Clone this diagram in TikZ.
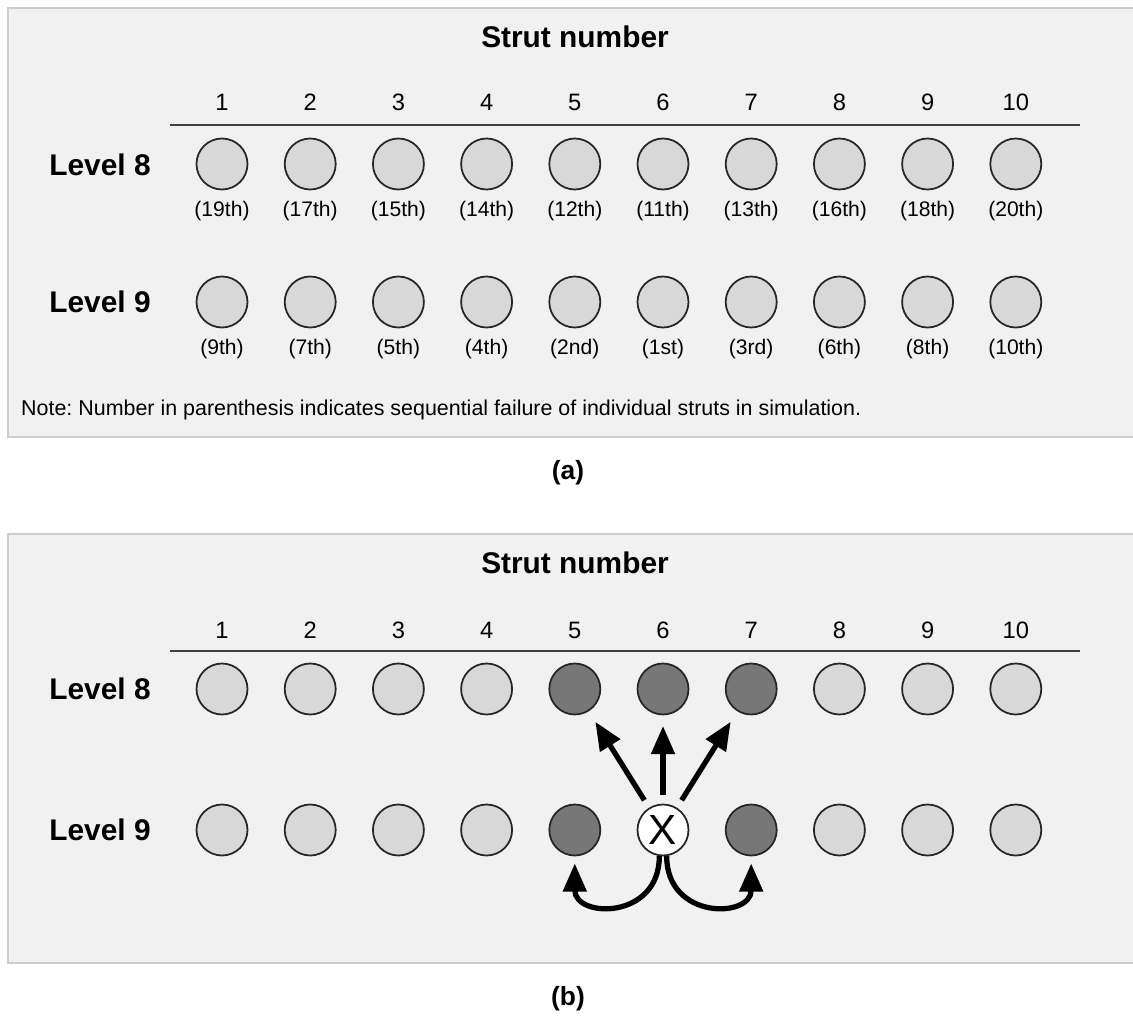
\documentclass[tikz,border=0pt]{standalone}
\usepackage{fontspec}
\setmainfont{Liberation Sans}
\usetikzlibrary{arrows.meta}
\frenchspacing

\definecolor{panelgray}{HTML}{F1F1F1}
\definecolor{edgegray}{HTML}{CDCDCD}
\definecolor{lightstrut}{HTML}{D8D8D8}
\definecolor{darkstrut}{HTML}{777777}

\begin{document}
\begin{tikzpicture}[
  x=0.02cm, y=-0.02cm,
  panel/.style={fill=panelgray, draw=edgegray, line width=1.2pt},
  strut/.style={circle, draw=black!85, line width=1pt, fill=lightstrut, minimum size=1.02cm, inner sep=0pt},
  failed/.style={strut, fill=darkstrut},
  removed/.style={strut, fill=white, font=\fontsize{24}{24}\selectfont},
  title/.style={font=\fontsize{17}{20}\selectfont\bfseries},
  levellabel/.style={font=\fontsize{17}{20}\selectfont\bfseries},
  colnum/.style={font=\fontsize{13.5}{16}\selectfont},
  order/.style={font=\fontsize{12}{14}\selectfont},
  caption/.style={font=\fontsize{15}{18}\selectfont\bfseries},
  push/.style={-{Triangle[length=16pt,width=13pt]}, line width=3pt}
]
\useasboundingbox (0,0) rectangle (1133,1017);
\fill[white] (0,0) rectangle (1133,1017);

% (a) failure sequence
\draw[panel] (8,8) rectangle (1150,437);
\node[title] (titleA) at (575,37) {Strut number};
\draw[line width=1.3pt, black!75] (170,125) -- (1080,125);
\foreach \i in {1,...,10}
  \node[colnum] (numA-\i) at ({222+(\i-1)*88.2},102) {\i};
\node[levellabel] (levA8) at (100,165) {Level 8};
\node[levellabel] (levA9) at (100,302) {Level 9};
\foreach \i/\r in {1/19th,2/17th,3/15th,4/14th,5/12th,6/11th,7/13th,8/16th,9/18th,10/20th} {
  \node[strut] (a8-\i) at ({222+(\i-1)*88.2},164) {};
  \node[order] (a8-\i-r) at ({222+(\i-1)*88.2},211) {(\r)};
}
\foreach \i/\r in {1/9th,2/7th,3/5th,4/4th,5/2nd,6/1st,7/3rd,8/6th,9/8th,10/10th} {
  \node[strut] (a9-\i) at ({222+(\i-1)*88.2},302) {};
  \node[order] (a9-\i-r) at ({222+(\i-1)*88.2},349) {(\r)};
}
\node[anchor=west, font=\fontsize{12.2}{14}\selectfont] (note) at (15,410)
  {Note: Number in parenthesis indicates sequential failure of individual struts in simulation.};
\node[caption] (capA) at (568,473) {(a)};

% (b) load redistribution
\draw[panel] (8,534) rectangle (1150,963);
\node[title] (titleB) at (575,563) {Strut number};
\draw[line width=1.3pt, black!75] (170,651) -- (1080,651);
\foreach \i in {1,...,10}
  \node[colnum] (numB-\i) at ({222+(\i-1)*88.2},630) {\i};
\node[levellabel] (levB8) at (100,689) {Level 8};
\node[levellabel] (levB9) at (100,830) {Level 9};
\foreach \i/\s in {1/strut,2/strut,3/strut,4/strut,5/failed,6/failed,7/failed,8/strut,9/strut,10/strut}
  \node[\s] (b8-\i) at ({222+(\i-1)*88.2},689) {};
\foreach \i/\s in {1/strut,2/strut,3/strut,4/strut,5/failed,7/failed,8/strut,9/strut,10/strut}
  \node[\s] (b9-\i) at ({222+(\i-1)*88.2},830) {};
\node[removed] (b9-6) at ({222+5*88.2},830) {X};

\draw[push, shorten <=5pt, shorten >=7pt] (b9-6) -- (b8-5);
\draw[push, shorten <=5pt, shorten >=6pt] (b9-6) -- (b8-6);
\draw[push, shorten <=5pt, shorten >=7pt] (b9-6) -- (b8-7);
\draw[push, shorten >=4pt] (b9-6.262) .. controls +(0,64) and +(0,62) .. (b9-5.south);
\draw[push, shorten >=4pt] (b9-6.278) .. controls +(0,64) and +(0,62) .. (b9-7.south);
\node[caption] (capB) at (568,999) {(b)};
\end{tikzpicture}
\end{document}
